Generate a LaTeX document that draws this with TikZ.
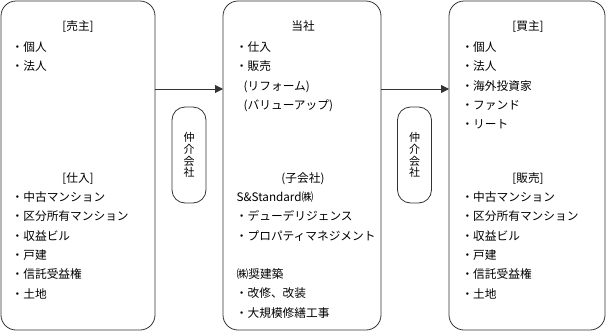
\documentclass[tikz,border=0pt]{standalone}
\usepackage{fontspec}
\setmainfont{Noto Sans CJK JP}
\usetikzlibrary{arrows.meta}
\begin{document}
\begin{tikzpicture}[x=1pt,y=-1pt]
\tikzset{
  bigbox/.style={draw=black!80, line width=0.8pt, rounded corners=15pt, anchor=north west, inner sep=0pt, outer sep=0pt},
  agentbox/.style={draw=black!80, line width=0.8pt, rounded corners=13pt, minimum width=34pt, minimum height=96pt, inner sep=0pt, outer sep=0pt, align=center, font=\fontsize{11}{11.8}\selectfont},
  ttl/.style={anchor=center, inner sep=0pt, text height=10pt, text depth=1pt, font=\fontsize{11.7}{14}\selectfont},
  itm/.style={anchor=west, inner sep=0pt, text height=10pt, text depth=1pt, font=\fontsize{11.7}{14}\selectfont},
  flow/.style={draw=black!80, line width=0.8pt, -{Triangle[length=8pt,width=8pt]}}
}
\useasboundingbox (0,0) rectangle (606,335);

% main boxes
\node[bigbox, minimum width=154pt, minimum height=329pt] (seller) at (1,1) {};
\node[bigbox, minimum width=158pt, minimum height=329pt] (company) at (223,1) {};
\node[bigbox, minimum width=156pt, minimum height=329pt] (buyer) at (449,1) {};

% broker boxes
\node[agentbox] (agent1) at (189,155) {仲\\介\\会\\社};
\node[agentbox] (agent2) at (414.5,155) {仲\\介\\会\\社};

% arrows
\coordinate (arrowrow) at (0,89);
\draw[flow] (seller.east |- arrowrow) -- (company.west |- arrowrow);
\draw[flow] (company.east |- arrowrow) -- (buyer.west |- arrowrow);

% seller texts
\node[ttl] (sT1) at (78,26) {[売主]};
\node[itm] (s1) at (11.5,47) {・個人};
\node[itm] (s2) at (11.5,66.3) {・法人};
\node[ttl] (sT2) at (78,178) {[仕入]};
\foreach \t [count=\i] in {中古マンション,区分所有マンション,収益ビル,戸建,信託受益権,土地}
  \node[itm] (sp\i) at (11.5,{197+(\i-1)*19.3}) {・\t};

% company texts
\node[ttl] (cT1) at (303,26) {当社};
\node[itm] (c1) at (235.7,47) {・仕入};
\node[itm] (c2) at (235.7,66.3) {・販売};
\node[itm] (c3) at (243.5,85.6) {(リフォーム)};
\node[itm] (c4) at (243.5,105) {(バリューアップ)};
\node[ttl] (cT2) at (303,178) {(子会社)};
\node[itm] (c5) at (236.5,197) {S\&Standard㈱};
\node[itm] (c6) at (235.7,216.3) {・デューデリジェンス};
\node[itm] (c7) at (235.7,235.6) {・プロパティマネジメント};
\node[itm] (c8) at (236.5,274) {㈱奨建築};
\node[itm] (c9) at (235.7,293.3) {・改修、改装};
\node[itm] (c10) at (235.7,312.6) {・大規模修繕工事};

% buyer texts
\node[ttl] (bT1) at (528,26) {[買主]};
\foreach \t [count=\i] in {個人,法人,海外投資家,ファンド,リート}
  \node[itm] (b\i) at (461.3,{47+(\i-1)*19.3}) {・\t};
\node[ttl] (bT2) at (528,178) {[販売]};
\foreach \t [count=\i] in {中古マンション,区分所有マンション,収益ビル,戸建,信託受益権,土地}
  \node[itm] (bs\i) at (461.3,{197+(\i-1)*19.3}) {・\t};
\end{tikzpicture}
\end{document}
